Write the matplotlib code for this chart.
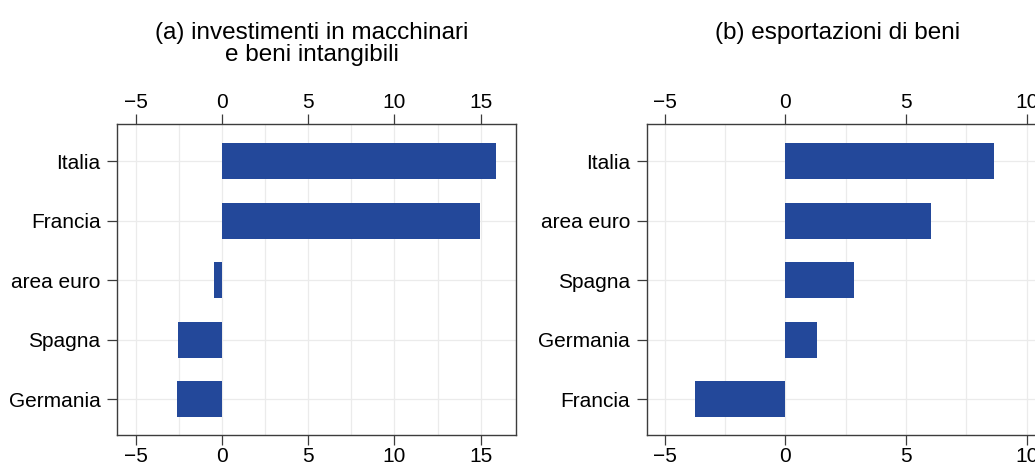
import matplotlib
matplotlib.use("Agg")
import matplotlib.pyplot as plt
from matplotlib.ticker import MultipleLocator

plt.rcParams['font.family'] = ['Liberation Sans', 'DejaVu Sans']

# dati (dal basso verso l'alto)
paesi_a = ["Germania", "Spagna", "area euro", "Francia", "Italia"]
valori_a = [-2.6, -2.55, -0.45, 14.95, 15.9]

paesi_b = ["Francia", "Germania", "Spagna", "area euro", "Italia"]
valori_b = [-3.75, 1.3, 2.85, 6.05, 8.65]

titolo_a = "(a) investimenti in macchinari\ne beni intangibili"
titolo_b = "(b) esportazioni di beni"

blu = "#23489a"
bordo = "#3c3c3c"
griglia = "#ebebeb"

fig = plt.figure(figsize=(10.35, 4.66), dpi=100)

W, H = 1035, 466
def box(left, top, right, bottom):
    return [left / W, 1 - bottom / H, (right - left) / W, (bottom - top) / H]

ax_a = fig.add_axes(box(117.3, 124.3, 516, 435))
ax_b = fig.add_axes(box(646.7, 124.3, 1045.4, 435))


def disegna(ax, paesi, valori, xlim):
    y = range(len(paesi))
    ax.barh(y, valori, height=0.6, color=blu, zorder=3)
    ax.set_yticks(list(y))
    ax.set_yticklabels(paesi)
    ax.set_ylim(-0.6, 4.62)
    ax.set_xlim(*xlim)
    ax.xaxis.set_major_locator(MultipleLocator(5))
    ax.xaxis.set_minor_locator(MultipleLocator(2.5))
    ax.grid(True, which='both', axis='x', color=griglia, lw=0.9, zorder=0)
    ax.grid(True, which='major', axis='y', color=griglia, lw=0.9, zorder=0)
    ax.tick_params(axis='x', which='minor', length=0)
    ax.tick_params(axis='both', which='major', direction='out', length=7,
                   width=0.9, color=bordo, labelsize=15, pad=2)
    ax.tick_params(axis='y', pad=5)
    ax.tick_params(axis='x', top=True, labeltop=True)
    for s in ax.spines.values():
        s.set_color(bordo)
        s.set_linewidth(1.0)
    ax.set_axisbelow(True)


disegna(ax_a, paesi_a, valori_a, (-6.07, 17.05))
disegna(ax_b, paesi_b, valori_b, (-5.74, 10.77))

fig.text(312 / W, 1 - 22 / H, titolo_a, ha='center', va='top', fontsize=17.5,
         linespacing=0.98)
fig.text(838 / W, 1 - 22 / H, titolo_b, ha='center', va='top', fontsize=17.5)

fig.savefig("out.png", dpi=100)
